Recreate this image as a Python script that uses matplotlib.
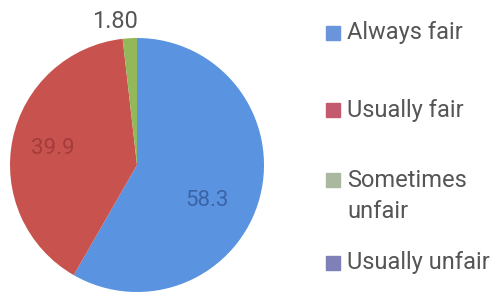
import matplotlib
matplotlib.use("Agg")
import matplotlib.pyplot as plt
from matplotlib.patches import Rectangle

categories = ["Always fair", "Usually fair", "Sometimes\nunfair", "Usually unfair"]
values = [58.3, 39.9, 1.8, 0.0]
value_labels = ["58.3", "39.9", "1.80", ""]
pie_colors = ["#5a93e0", "#c8524d", "#92b85a", "#7f7fc0"]
legend_colors = ["#6a95da", "#c45a6e", "#aab8a0", "#7f80b8"]

plt.rcParams['font.family'] = ['Roboto', 'DejaVu Sans']

W, H = 502, 293
fig = plt.figure(figsize=(W / 100, H / 100), dpi=100)
cx, cy, r = 137, 165, 127
ax = fig.add_axes([(cx - r) / W, (H - cy - r) / H, 2 * r / W, 2 * r / H])
wedges, _ = ax.pie(values, colors=pie_colors, startangle=90, counterclock=False,
                   radius=1, wedgeprops=dict(linewidth=0))
ax.set_xlim(-1, 1)
ax.set_ylim(-1, 1)
ax.set_aspect('equal')
ax.axis('off')

# value labels
label_pos = [(0.55, -0.28), (-0.66, 0.13), (-0.17, 1.13)]
label_cols = ["#3b63a6", "#a53c3c", "#555555"]
label_sizes = [16, 16, 17]
for txt, (x, y), c, s in zip(value_labels, label_pos, label_cols, label_sizes):
    ax.text(x, y, txt, ha='center', va='center', color=c, fontsize=s, clip_on=False)

# legend
leg_y = [33, 110, 196, 263]
for cat, col, y in zip(categories, legend_colors, leg_y):
    first_line_y = y if "\n" not in cat else y - 16
    fig.patches.append(Rectangle((326 / W, (H - first_line_y - 7) / H), 14 / W, 14 / H,
                                 transform=fig.transFigure, color=col))
    fig.text(347 / W, (H - y) / H, cat, ha='left', va='center', color='#555555',
             fontsize=17, linespacing=1.45)

fig.savefig("out.png", dpi=100, facecolor='white')
